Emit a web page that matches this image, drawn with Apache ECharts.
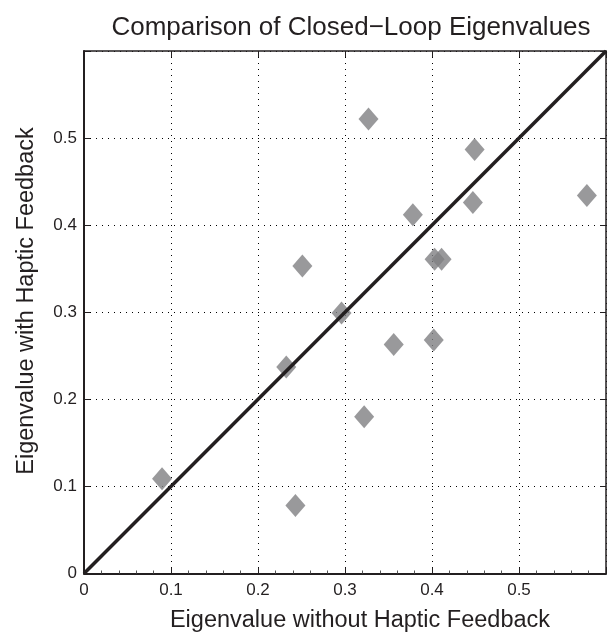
<!DOCTYPE html>
<html>
<head>
<meta charset="utf-8">
<script src="https://cdn.jsdelivr.net/npm/echarts@6/dist/echarts.min.js"></script>
<style>
html,body{margin:0;padding:0;background:#fff;}
#chart{width:609px;height:633px;}
</style>
</head>
<body>
<div id="chart"></div>
<script>
// Data
var withoutHaptic = [0.0897, 0.2325, 0.243, 0.251, 0.296, 0.322, 0.327, 0.356, 0.378, 0.402, 0.403, 0.411, 0.447, 0.449, 0.578];
var withHaptic    = [0.1087, 0.237, 0.078, 0.353, 0.299, 0.180, 0.522, 0.263, 0.412, 0.268, 0.361, 0.361, 0.426, 0.487, 0.434];
var identityLine  = [[0, 0], [0.6, 0.6]];
var xTicks = [0, 0.1, 0.2, 0.3, 0.4, 0.5];
var yTicks = [0, 0.1, 0.2, 0.3, 0.4, 0.5];
var titleText = 'Comparison of Closed\u2212Loop Eigenvalues';
var xName = 'Eigenvalue without Haptic Feedback';
var yName = 'Eigenvalue with Haptic Feedback';

var points = withoutHaptic.map(function (x, i) { return [x, withHaptic[i]]; });
var FONT = 'Liberation Sans, Arial, Helvetica, sans-serif';
var TXT = '#231f20';

function fmtList(list) {
  return function (v) {
    var r = Math.round(v * 10) / 10;
    if (list.indexOf(r) < 0) return '';
    return r === 0 ? '0' : String(r);
  };
}

var chart = echarts.init(document.getElementById('chart'), null, {renderer: 'canvas'});
var gridDot = {show: true, lineStyle: {color: '#000', width: 1, type: [1, 5]}};
chart.setOption({
  animation: false,
  backgroundColor: '#fff',
  title: {
    text: titleText,
    left: 346, top: 10, textAlign: 'center',
    textStyle: {fontFamily: FONT, fontWeight: 'normal', fontSize: 26, color: TXT}
  },
  graphic: [{
    type: 'text', x: 360, y: 621,
    style: {text: xName, fontFamily: FONT, fontSize: 23.5, fill: TXT, align: 'center', verticalAlign: 'middle'}
  }, {
    type: 'text', x: 27, y: 301, rotation: Math.PI / 2,
    style: {text: yName, fontFamily: FONT, fontSize: 23.5, fill: TXT, align: 'center', verticalAlign: 'middle'}
  }],
  grid: {left: 84, right: 1.5, top: 51, bottom: 59.5, containLabel: false},
  xAxis: [{
    type: 'value', min: 0, max: 0.6, interval: 0.1, position: 'bottom',
    axisLine: {show: true, onZero: false, lineStyle: {color: TXT, width: 2}},
    axisTick: {show: true, inside: true, length: 6, lineStyle: {color: TXT, width: 1}},
    minorTick: {show: true, splitNumber: 5, length: 3, lineStyle: {color: '#555', width: 1}},
    axisLabel: {formatter: fmtList(xTicks), margin: 8, fontFamily: FONT, fontSize: 17, color: TXT},
    splitLine: gridDot
  }, {
    type: 'value', min: 0, max: 0.6, interval: 0.1, position: 'top',
    axisLine: {show: true, onZero: false, lineStyle: {color: TXT, width: 1.5}},
    axisTick: {show: true, inside: true, length: 6, lineStyle: {color: TXT, width: 1}},
    axisLabel: {show: false}, splitLine: {show: false}
  }],
  yAxis: [{
    type: 'value', min: 0, max: 0.6, interval: 0.1, position: 'left',
    axisLine: {show: true, onZero: false, lineStyle: {color: TXT, width: 2}},
    axisTick: {show: true, inside: true, length: 6, lineStyle: {color: TXT, width: 1}},
    axisLabel: {formatter: fmtList(yTicks), margin: 7, fontFamily: FONT, fontSize: 17, color: TXT},
    splitLine: gridDot
  }, {
    type: 'value', min: 0, max: 0.6, interval: 0.1, position: 'right',
    axisLine: {show: true, onZero: false, lineStyle: {color: TXT, width: 1.5}},
    axisTick: {show: true, inside: true, length: 6, lineStyle: {color: TXT, width: 1}},
    axisLabel: {show: false}, splitLine: {show: false}
  }],
  series: [{
    type: 'scatter', data: points, symbol: 'diamond', symbolSize: [20, 23],
    itemStyle: {color: '#7f7f82'}, z: 2
  }, {
    type: 'line', data: identityLine, symbol: 'none',
    lineStyle: {color: '#231f20', width: 3.5}, z: 3
  }]
});
</script>
</body>
</html>
